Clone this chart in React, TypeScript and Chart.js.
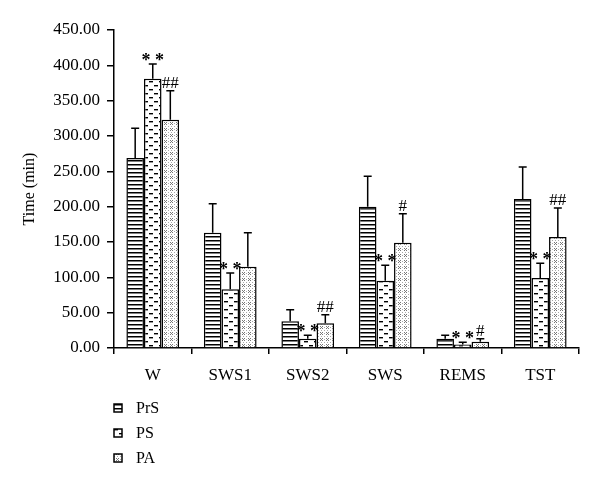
import React, { useEffect, useRef } from "react";
import { Chart, registerables } from "chart.js";

Chart.register(...registerables);

const categories = ["W", "SWS1", "SWS2", "SWS", "REMS", "TST"];
const seriesNames = ["PrS", "PS", "PA"];
const prsValues = [269, 163, 38, 200, 13, 211];
const psValues = [381, 83, 13, 95, 5, 99];
const paValues = [323, 115, 35, 149, 9, 157];
const prsErrors = [42, 41, 16, 43, 5, 45];
const psErrors = [21, 23, 5, 22, 3, 21];
const paErrors = [41, 48, 12, 41, 4, 41];
const prsMarks = ["", "", "", "", "", ""];
const psMarks = ["* *", "* *", "* *", "* *", "* *", "* *"];
const paMarks = ["##", "", "##", "#", "#", "##"];
const yMin = 0;
const yMax = 450;
const yStep = 50;
const yTitle = "Time (min)";

const FONT = '"Liberation Serif", "DejaVu Serif", serif';

function makePattern(kind: string): CanvasPattern | string {
  const c = document.createElement("canvas");
  const g = c.getContext("2d");
  if (!g) return "#fff";
  if (kind === "lines") {
    c.width = 4;
    c.height = 4;
    g.fillStyle = "#fff";
    g.fillRect(0, 0, 4, 4);
    g.fillStyle = "#000";
    g.fillRect(0, 0, 4, 1);
    g.fillStyle = "rgba(0,0,0,0.5)";
    g.fillRect(0, 1, 4, 1);
  } else if (kind === "dashes") {
    c.width = 10;
    c.height = 8;
    g.fillStyle = "#fff";
    g.fillRect(0, 0, 10, 8);
    g.fillStyle = "#000";
    g.fillRect(1, 1, 4, 1);
    g.fillRect(6, 5, 4, 1);
    g.fillStyle = "rgba(0,0,0,0.4)";
    g.fillRect(1, 2, 4, 1);
    g.fillRect(6, 6, 4, 1);
  } else {
    c.width = 6;
    c.height = 6;
    g.fillStyle = "#fff";
    g.fillRect(0, 0, 6, 6);
    g.fillStyle = "#777";
    // small crosses, staggered
    const cross = (x: number, y: number) => {
      g.fillRect(x, y, 1, 1);
      g.fillRect(x + 2, y, 1, 1);
      g.fillRect(x + 1, y + 1, 1, 1);
      g.fillRect(x, y + 2, 1, 1);
      g.fillRect(x + 2, y + 2, 1, 1);
    };
    cross(0, 0);
    g.fillStyle = "#aaa";
    g.fillRect(4, 4, 1, 1);
    g.fillRect(4, 1, 1, 1);
    g.fillRect(1, 4, 1, 1);
  }
  const p = g.createPattern(c, "repeat");
  return p || "#fff";
}

export default function App() {
  const ref = useRef<HTMLCanvasElement | null>(null);

  useEffect(() => {
    if (!ref.current) return;
    const patterns = [makePattern("lines"), makePattern("dashes"), makePattern("dots")];
    const errors = [prsErrors, psErrors, paErrors];
    const marks = [prsMarks, psMarks, paMarks];
    const values = [prsValues, psValues, paValues];

    const errorPlugin = {
      id: "errorBars",
      afterDatasetsDraw(chart: any) {
        const ctx = chart.ctx;
        const y = chart.scales.y;
        chart.data.datasets.forEach((ds: any, di: number) => {
          const meta = chart.getDatasetMeta(di);
          meta.data.forEach((bar: any, i: number) => {
            const v = ds.data[i];
            const top = y.getPixelForValue(v + errors[di][i]);
            ctx.save();
            ctx.strokeStyle = "#000";
            ctx.lineWidth = 1.5;
            ctx.beginPath();
            ctx.moveTo(bar.x, bar.y);
            ctx.lineTo(bar.x, top);
            ctx.moveTo(bar.x - 4, top);
            ctx.lineTo(bar.x + 4, top);
            ctx.stroke();
            const m = marks[di][i];
            if (m) {
              ctx.fillStyle = "#000";
              ctx.textAlign = "center";
              ctx.textBaseline = "alphabetic";
              if (m.indexOf("*") >= 0) {
                ctx.font = "bold 18px " + FONT;
                ctx.fillText(m, bar.x, top + 2);
              } else {
                ctx.font = "17px " + FONT;
                ctx.fillText(m, bar.x, top - 3);
              }
            }
            ctx.restore();
          });
        });
      },
    };

    const legendPlugin = {
      id: "vertLegend",
      afterDraw(chart: any) {
        const ctx = chart.ctx;
        const area = chart.chartArea;
        ctx.save();
        chart.data.datasets.forEach((ds: any, di: number) => {
          const cy = area.bottom + 60 + di * 25;
          const bx = area.left;
          ctx.fillStyle = patterns[di];
          ctx.fillRect(bx, cy - 4, 8, 8);
          ctx.strokeStyle = "#000";
          ctx.lineWidth = 1.5;
          ctx.strokeRect(bx, cy - 4, 8, 8);
          ctx.fillStyle = "#000";
          ctx.font = "16px " + FONT;
          ctx.textAlign = "left";
          ctx.textBaseline = "middle";
          ctx.fillText(ds.label, bx + 22, cy + 1);
        });
        ctx.restore();
      },
    };

    const chart = new Chart(ref.current, {
      type: "bar",
      data: {
        labels: categories,
        datasets: seriesNames.map((name, di) => ({
          label: name,
          data: values[di],
          backgroundColor: patterns[di] as any,
          borderColor: "#000",
          borderWidth: 1.5,
          categoryPercentage: 0.68,
          barPercentage: 1,
        })),
      },
      options: {
        animation: false,
        responsive: true,
        maintainAspectRatio: false,
        layout: { padding: { top: 22, right: 13, bottom: 84, left: 0 } },
        plugins: {
          legend: { display: false },
          tooltip: { enabled: false },
        },
        scales: {
          x: {
            offset: true,
            grid: {
              offset: true,
              drawOnChartArea: false,
              drawTicks: true,
              tickLength: 6,
              color: "#000",
              lineWidth: 1.5,
            },
            border: { display: true, color: "#000", width: 1.5 },
            ticks: {
              color: "#000",
              font: { family: FONT, size: 17 },
              padding: 11,
            },
            afterFit(scale: any) {
              scale.height = 50;
            },
          },
          y: {
            min: yMin,
            max: yMax,
            grid: {
              drawOnChartArea: false,
              drawTicks: true,
              tickLength: 7,
              color: "#000",
              lineWidth: 1.5,
            },
            border: { display: true, color: "#000", width: 1.5 },
            ticks: {
              stepSize: yStep,
              color: "#000",
              font: { family: FONT, size: 17 },
              padding: 7,
              callback: (v: any) => Number(v).toFixed(2),
            },
            title: {
              display: true,
              text: yTitle,
              color: "#000",
              font: { family: FONT, size: 16 },
              padding: { top: 12, bottom: 0 },
            },
            afterFit(scale: any) {
              scale.width = 106;
            },
          },
        },
      },
      plugins: [errorPlugin, legendPlugin],
    });
    return () => chart.destroy();
  }, []);

  return (
    <div style={{ width: 584, height: 474, position: "relative" }}>
      <canvas ref={ref} />
    </div>
  );
}
